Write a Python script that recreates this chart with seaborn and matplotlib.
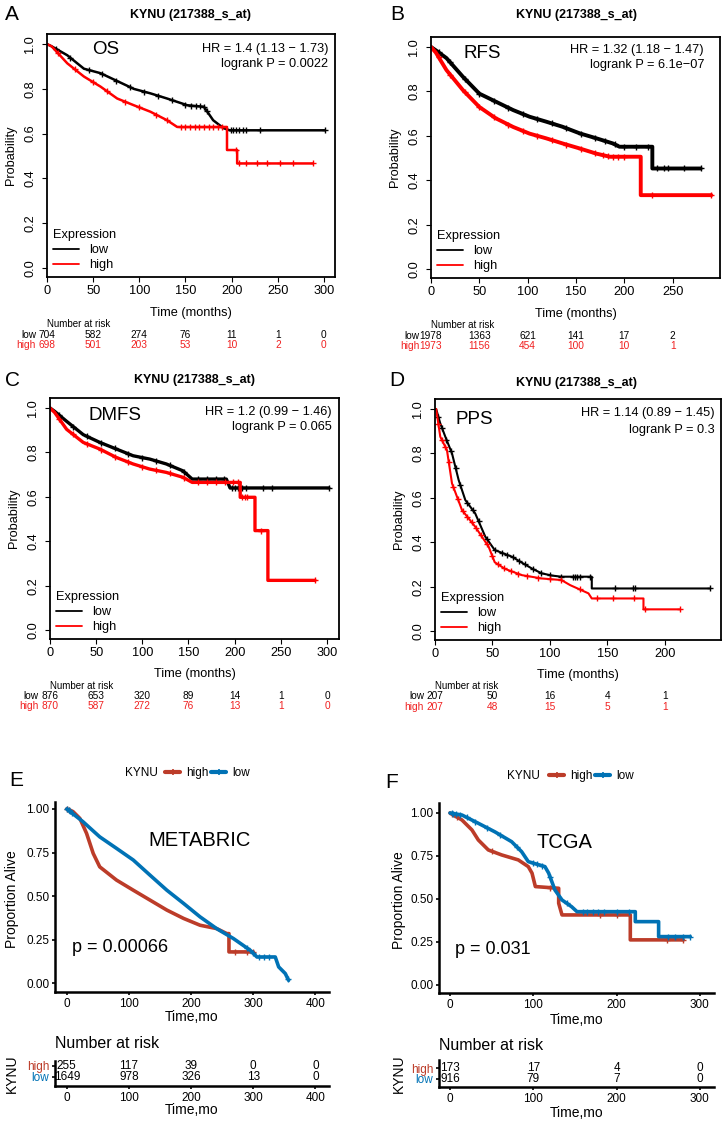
import numpy as np
import pandas as pd
import seaborn as sns
import matplotlib.pyplot as plt
from matplotlib.lines import Line2D
from matplotlib import transforms

# ---------------- data ----------------
# A: OS
os_low_t = [0, 5, 22, 40, 58, 76, 94, 112, 130, 152, 170, 175, 180, 191, 198, 301]
os_low_s = [1.0, 0.99, 0.95, 0.89, 0.87, 0.835, 0.80, 0.78, 0.757, 0.727, 0.72, 0.69, 0.66, 0.625, 0.615, 0.615]
os_high_t = [0, 5, 22, 40, 58, 76, 94, 112, 130, 141, 195, 195, 206, 206, 288]
os_high_s = [1.0, 0.99, 0.914, 0.855, 0.81, 0.757, 0.727, 0.698, 0.66, 0.63, 0.63, 0.527, 0.527, 0.467, 0.467]
os_low_cens = [10, 25, 45, 60, 75, 90, 105, 120, 135, 150, 156, 161, 166, 170, 173,
               199, 202, 205, 208, 212, 216, 231, 301]
os_high_cens = [12, 30, 50, 65, 85, 100, 118, 130, 145, 150, 155, 160, 165, 170, 175, 180,
                185, 190, 205, 208, 216, 227, 238, 252, 267, 288]
os_risk_t = [0, 50, 100, 150, 200, 250, 300]
os_risk_low = [704, 582, 274, 76, 11, 1, 0]
os_risk_high = [698, 501, 203, 53, 10, 2, 0]

# B: RFS
rfs_low_t = [0, 5, 16, 33, 50, 67, 85, 102, 119, 136, 154, 171, 188, 195, 229, 229, 279]
rfs_low_s = [1.0, 0.985, 0.95, 0.866, 0.79, 0.754, 0.716, 0.686, 0.664, 0.641, 0.611, 0.589,
             0.566, 0.551, 0.551, 0.453, 0.453]
rfs_high_t = [0, 5, 16, 33, 50, 67, 85, 102, 119, 136, 154, 171, 185, 217, 217, 290]
rfs_high_s = [1.0, 0.975, 0.896, 0.806, 0.73, 0.679, 0.64, 0.61, 0.589, 0.566, 0.543, 0.52,
              0.506, 0.506, 0.333, 0.333]
rfs_low_cens = [8, 20, 35, 50, 65, 80, 95, 110, 125, 140, 155, 170, 180, 190, 200, 212, 224,
                234, 241, 245, 262, 279]
rfs_high_cens = [8, 20, 35, 50, 65, 80, 95, 110, 125, 140, 155, 170, 178, 183, 188, 193, 200,
                 229, 290]
rfs_risk_t = [0, 50, 100, 150, 200, 250]
rfs_risk_low = [1978, 1363, 621, 141, 17, 2]
rfs_risk_high = [1973, 1156, 454, 100, 10, 1]

# C: DMFS
dmfs_low_t = [0, 5, 18, 36, 54, 72, 90, 108, 126, 144, 154, 191, 195, 302]
dmfs_low_s = [1.0, 0.985, 0.94, 0.88, 0.845, 0.815, 0.785, 0.77, 0.748, 0.717, 0.68, 0.68, 0.64, 0.64]
dmfs_high_t = [0, 5, 18, 36, 54, 72, 90, 108, 126, 144, 154, 206, 206, 222, 222, 236, 236, 287]
dmfs_high_s = [1.0, 0.98, 0.904, 0.845, 0.815, 0.777, 0.748, 0.725, 0.71, 0.688, 0.665, 0.665,
               0.598, 0.598, 0.448, 0.448, 0.224, 0.224]
dmfs_low_cens = [10, 25, 40, 55, 70, 85, 100, 115, 130, 145, 160, 170, 180, 188, 197, 200, 204,
                 208, 212, 231, 240, 302]
dmfs_high_cens = [10, 25, 40, 55, 70, 85, 100, 115, 130, 145, 160, 170, 180, 190, 198, 204, 208,
                  211, 213, 229, 287]
dmfs_risk_t = [0, 50, 100, 150, 200, 250, 300]
dmfs_risk_low = [876, 653, 320, 89, 14, 1, 0]
dmfs_risk_high = [870, 587, 272, 76, 13, 1, 0]

# D: PPS
pps_low_t = [0, 1, 4.6, 9, 14.8, 20.6, 26.4, 35, 43.8, 52, 67, 75, 85, 93, 102, 110, 136.5, 136.5, 239]
pps_low_s = [1.0, 1.0, 0.935, 0.875, 0.8, 0.68, 0.59, 0.53, 0.425, 0.365, 0.335, 0.31, 0.28, 0.26,
             0.25, 0.245, 0.245, 0.192, 0.192]
pps_high_t = [0, 1, 4.6, 10.4, 14.8, 23.5, 35, 46.7, 52, 61, 75.6, 93, 110, 117.7, 133.6, 136.5,
              181.5, 181.5, 213]
pps_high_s = [1.0, 1.0, 0.875, 0.815, 0.665, 0.545, 0.47, 0.38, 0.31, 0.28, 0.252, 0.237, 0.23,
              0.207, 0.17, 0.147, 0.147, 0.098, 0.098]
pps_low_cens = [3, 6, 10, 14, 18, 22, 28, 33, 38, 45, 52, 58, 63, 68, 73, 78, 85, 92, 100, 110,
                120, 122, 124, 126, 135, 157, 172, 174, 239]
pps_high_cens = [3, 6, 9, 12, 16, 20, 24, 28, 32, 36, 40, 45, 50, 55, 60, 66, 72, 80, 90, 100,
                 110, 126, 141, 155, 173, 183, 213]
pps_risk_t = [0, 50, 100, 150, 200]
pps_risk_low = [207, 50, 16, 4, 1]
pps_risk_high = [207, 48, 15, 5, 1]

# E: METABRIC
met_low_t = [0, 26, 53, 80, 107, 134, 161, 188, 214.5, 241, 268, 295, 306, 335.5, 341, 351.6, 357]
met_low_s = [1.0, 0.927, 0.84, 0.774, 0.707, 0.62, 0.534, 0.458, 0.381, 0.314, 0.257, 0.19, 0.151,
             0.151, 0.094, 0.056, 0.017]
met_high_t = [0, 10, 21, 31.8, 42.5, 53, 80, 107, 134, 161, 188, 214.5, 241, 257.6, 261, 261, 300]
met_high_s = [1.0, 0.985, 0.946, 0.86, 0.745, 0.668, 0.592, 0.534, 0.477, 0.42, 0.372, 0.333,
              0.314, 0.285, 0.285, 0.18, 0.18]
met_low_cens = [1, 3, 5, 8, 290, 300, 310, 318, 326, 356]
met_high_cens = [1, 3, 270, 290, 300]
met_risk_t = [0, 100, 200, 300, 400]
met_risk_high = [255, 117, 39, 0, 0]
met_risk_low = [1649, 978, 326, 13, 0]

# F: TCGA
tcga_low_t = [0, 14.4, 34, 54, 74, 86, 94, 114, 118.5, 126, 134.5, 146, 152.5, 222.5, 222.5,
              250.5, 250.5, 288.5]
tcga_low_s = [1.0, 0.988, 0.94, 0.89, 0.833, 0.775, 0.717, 0.688, 0.65, 0.552, 0.494, 0.455,
              0.426, 0.426, 0.368, 0.368, 0.281, 0.281]
tcga_high_t = [0, 14.4, 26.4, 34, 46, 62, 82, 94, 98.5, 102.5, 130.5, 130.5, 134.5, 216.5, 216.5, 280]
tcga_high_s = [1.0, 0.959, 0.901, 0.843, 0.785, 0.756, 0.727, 0.688, 0.65, 0.572, 0.562, 0.475,
               0.407, 0.407, 0.262, 0.262]
tcga_low_cens = [2, 4, 7, 12, 20, 30, 45, 60, 80, 100, 105, 110, 120, 140, 160, 165, 172, 178,
                 185, 200, 215, 262, 270, 280, 288]
tcga_high_cens = [3, 8, 50, 120, 180, 200, 260, 280]
tcga_risk_t = [0, 100, 200, 300]
tcga_risk_high = [173, 17, 4, 0]
tcga_risk_low = [916, 79, 7, 0]

HIGH_C = "#BC3C29"
LOW_C = "#0072B5"

# ---------------- figure ----------------
sns.set_style("ticks")
plt.rcParams['font.family'] = ['Liberation Sans', 'DejaVu Sans']
plt.rcParams.update({'text.color': 'black', 'axes.labelcolor': 'black',
                     'xtick.color': 'black', 'ytick.color': 'black',
                     'axes.edgecolor': 'black'})

W, H = 724, 1128
fig = plt.figure(figsize=(W / 100, H / 100), dpi=100)


def box(x0, y0, x1, y1):
    return fig.add_axes([x0 / W, 1 - y1 / H, (x1 - x0) / W, (y1 - y0) / H])


def ftext(x, y, s, **kw):
    kw.setdefault('ha', 'center')
    kw.setdefault('va', 'center')
    fig.text(x / W, 1 - y / H, s, **kw)


def km(ax, t, s, cens, color, lw, ms, mew):
    df = pd.DataFrame({'time': t, 'surv': s})
    sns.lineplot(data=df, x='time', y='surv', ax=ax, color=color, linewidth=lw,
                 estimator=None, sort=False, legend=False)
    ct = np.asarray(cens, float)
    ax.plot(ct, np.interp(ct, t, s), ls='none', marker='+', color=color, ms=ms, mew=mew)
    ax.set(xlabel='', ylabel='')


def top_panel(px, xmax, xticks, low, high, risk, letter, title_xy, name, name_xy,
              hr, pv, hr_xy, risk_y, tlab_y, lw):
    x0, y0, x1, y1 = px
    ax = box(*px)
    km(ax, low[0], low[1], low[2], 'black', lw, 4.5, 1.0)
    km(ax, high[0], high[1], high[2], 'red', lw, 4.5, 1.0)
    ax.set_xlim(0, xmax)
    ax.set_ylim(-0.04, 1.045)
    ax.set_xticks(xticks)
    ax.set_yticks([0, 0.2, 0.4, 0.6, 0.8, 1.0])
    ax.set_yticklabels(['0.0', '0.2', '0.4', '0.6', '0.8', '1.0'], rotation=90, va='center')
    ax.tick_params(direction='out', length=3.6, width=0.8, labelsize=9.2, left=True, bottom=True)
    ax.tick_params(axis='x', pad=2)
    ax.tick_params(axis='y', pad=4)
    for sp in ax.spines.values():
        sp.set_linewidth(1.3)

    w_ax, h_ax = x1 - x0, y1 - y0
    ax.legend(handles=[Line2D([], [], color='black', lw=1.3), Line2D([], [], color='red', lw=1.3)],
              labels=['low', 'high'], title='Expression', loc='lower left',
              bbox_to_anchor=(6 / w_ax, 6 / h_ax), frameon=False, fontsize=9.2,
              title_fontsize=9.2, handlelength=2.0, handletextpad=0.85, labelspacing=0.22,
              borderpad=0, borderaxespad=0, alignment='left')

    ftext(letter[1], letter[2], letter[0], fontsize=15)
    ftext(title_xy[0], title_xy[1], 'KYNU (217388_s_at)', fontsize=9, fontweight='bold')
    ftext(name_xy[0], name_xy[1], name, fontsize=13.5)
    ftext(hr_xy[0], hr_xy[1], hr, ha='right', fontsize=9.2)
    ftext(hr_xy[0], hr_xy[2], pv, ha='right', fontsize=9.2)
    ftext((x0 + x1) / 2, tlab_y, 'Time (months)', fontsize=9.2)
    ftext(x0 - 36, (y0 + y1) / 2, 'Probability', rotation=90, fontsize=9.2)

    trans = transforms.blended_transform_factory(ax.transData, fig.transFigure)
    lab_trans = transforms.offset_copy(trans, fig=fig, x=-11, units='dots')
    fy = lambda y: 1 - y / H
    ax.text(0, fy(risk_y[0]), 'Number at risk', transform=trans, ha='left', va='center',
            fontsize=7, clip_on=False)
    for vals, lab, yy, c in [(risk[1], 'low', risk_y[1], 'black'), (risk[2], 'high', risk_y[2], '#f02020')]:
        ax.text(0, fy(yy), lab, transform=lab_trans, ha='right', va='center', fontsize=7.3,
                color=c, clip_on=False)
        for t, v in zip(risk[0], vals):
            ax.text(t, fy(yy), str(v), transform=trans, ha='center', va='center', fontsize=7.3,
                    color=c, clip_on=False)


top_panel((47, 34, 335, 277), 312, os_risk_t,
          (os_low_t, os_low_s, os_low_cens), (os_high_t, os_high_s, os_high_cens),
          (os_risk_t, os_risk_low, os_risk_high), ('A', 12, 14), (190, 15), 'OS', (106, 50),
          'HR = 1.4 (1.13 \u2212 1.73)', 'logrank P = 0.0022', (328, 49, 64), (324, 335, 345), 313, 1.8)
top_panel((431, 37, 720, 278), 299, rfs_risk_t,
          (rfs_low_t, rfs_low_s, rfs_low_cens), (rfs_high_t, rfs_high_s, rfs_high_cens),
          (rfs_risk_t, rfs_risk_low, rfs_risk_high), ('B', 397, 15), (576, 15), 'RFS', (482, 53),
          'HR = 1.32 (1.18 \u2212 1.47)', 'logrank P = 6.1e\u221207', (704, 50, 65), (325, 336, 346), 314, 2.8)
top_panel((50, 398, 339, 639), 313, dmfs_risk_t,
          (dmfs_low_t, dmfs_low_s, dmfs_low_cens), (dmfs_high_t, dmfs_high_s, dmfs_high_cens),
          (dmfs_risk_t, dmfs_risk_low, dmfs_risk_high), ('C', 12, 380), (195, 380), 'DMFS', (115, 415),
          'HR = 1.2 (0.99 \u2212 1.46)', 'logrank P = 0.065', (332, 412, 427), (686, 696, 706), 674, 2.4)
top_panel((435, 399, 721, 640), 249, pps_risk_t,
          (pps_low_t, pps_low_s, pps_low_cens), (pps_high_t, pps_high_s, pps_high_cens),
          (pps_risk_t, pps_risk_low, pps_risk_high), ('D', 397, 380), (577, 383), 'PPS', (474, 419),
          'HR = 1.14 (0.89 \u2212 1.45)', 'logrank P = 0.3', (715, 413, 430), (686, 696, 707), 675, 1.5)


def bottom_panel(px, xlim, ylim, xticks, low, high, risk, tpx, tylim, letter, leg_xy,
                 name, name_xy, pv, p_xy, ylab_x, xlab_y, tlab_y, nar_y):
    x0, y0, x1, y1 = px
    ax = box(*px)
    km(ax, high[0], high[1], high[2], HIGH_C, 2.6, 5, 1.0)
    km(ax, low[0], low[1], low[2], LOW_C, 2.6, 5, 1.0)
    ax.set_xlim(*xlim)
    ax.set_ylim(*ylim)
    ax.set_xticks(xticks)
    ax.set_yticks([0, 0.25, 0.5, 0.75, 1.0])
    ax.set_yticklabels(['0.00', '0.25', '0.50', '0.75', '1.00'])
    sns.despine(ax=ax)
    for side in ['left', 'bottom']:
        ax.spines[side].set_linewidth(1.8)
    ax.tick_params(direction='out', length=2.5, width=1.2, labelsize=8.5, pad=1.5)

    ftext(letter[1], letter[2], letter[0], fontsize=15)
    ftext(leg_xy[0], leg_xy[1], 'KYNU', ha='left', fontsize=8.5)
    handles = [Line2D([], [], color=HIGH_C, lw=3, marker='+', ms=5, mew=1.2),
               Line2D([], [], color=LOW_C, lw=3, marker='+', ms=5, mew=1.2)]
    fig.legend(handles=handles, labels=['high', 'low'], ncol=2, loc='center left',
               bbox_to_anchor=(leg_xy[2] / W, 1 - leg_xy[1] / H), frameon=False, fontsize=8.5,
               handlelength=1.3, handletextpad=0.5, columnspacing=0.2, borderpad=0,
               borderaxespad=0)
    ftext(name_xy[0], name_xy[1], name, fontsize=14.5)
    ftext(p_xy[0], p_xy[1], pv, ha='left', fontsize=13)
    ftext(ylab_x, (y0 + y1) / 2 + 2, 'Proportion Alive', rotation=90, fontsize=10)
    ftext((x0 + x1) / 2, xlab_y, 'Time,mo', fontsize=10)

    tb = box(*tpx)
    tb.set_xlim(*xlim)
    tb.set_ylim(*tylim)
    for i, vals in enumerate([risk[2], risk[1]]):
        for t, v in zip(risk[0], vals):
            tb.text(t, i, str(v), ha='center', va='center', fontsize=8.5)
    tb.set_xticks(xticks)
    tb.set_yticks([0, 1])
    tb.set_yticklabels(['low', 'high'])
    tb.get_yticklabels()[0].set_color(LOW_C)
    tb.get_yticklabels()[1].set_color(HIGH_C)
    sns.despine(ax=tb)
    for side in ['left', 'bottom']:
        tb.spines[side].set_linewidth(1.8)
    tb.tick_params(direction='out', length=2.5, width=1.2, labelsize=8.5, pad=1.5)
    ftext(tpx[0], nar_y, 'Number at risk', ha='left', fontsize=11.5)
    ftext(ylab_x, (tpx[1] + tpx[3]) / 2, 'KYNU', rotation=90, fontsize=10)
    ftext((x0 + x1) / 2, tlab_y, 'Time,mo', fontsize=10)


bottom_panel((55, 802, 329, 992), (-19, 422), (-0.05, 1.04), met_risk_t,
             (met_low_t, met_low_s, met_low_cens), (met_high_t, met_high_s, met_high_cens),
             (met_risk_t, met_risk_high, met_risk_low), (55, 1061, 329, 1086), (-0.82, 1.45),
             ('E', 16, 781), (125, 773, 165), 'METABRIC', (200, 840), 'p = 0.00066', (72, 948),
             12, 1017, 1110, 1043)
bottom_panel((439, 803, 714, 993), (-13.2, 317), (-0.047, 1.058), tcga_risk_t,
             (tcga_low_t, tcga_low_s, tcga_low_cens), (tcga_high_t, tcga_high_s, tcga_high_cens),
             (tcga_risk_t, tcga_risk_high, tcga_risk_low), (439, 1060, 714, 1087), (-0.73, 1.73),
             ('F', 392, 782), (507, 776, 549), 'TCGA', (564, 842), 'p = 0.031', (455, 950),
             399, 1020, 1113, 1046)

fig.savefig('out.png', dpi=100)
